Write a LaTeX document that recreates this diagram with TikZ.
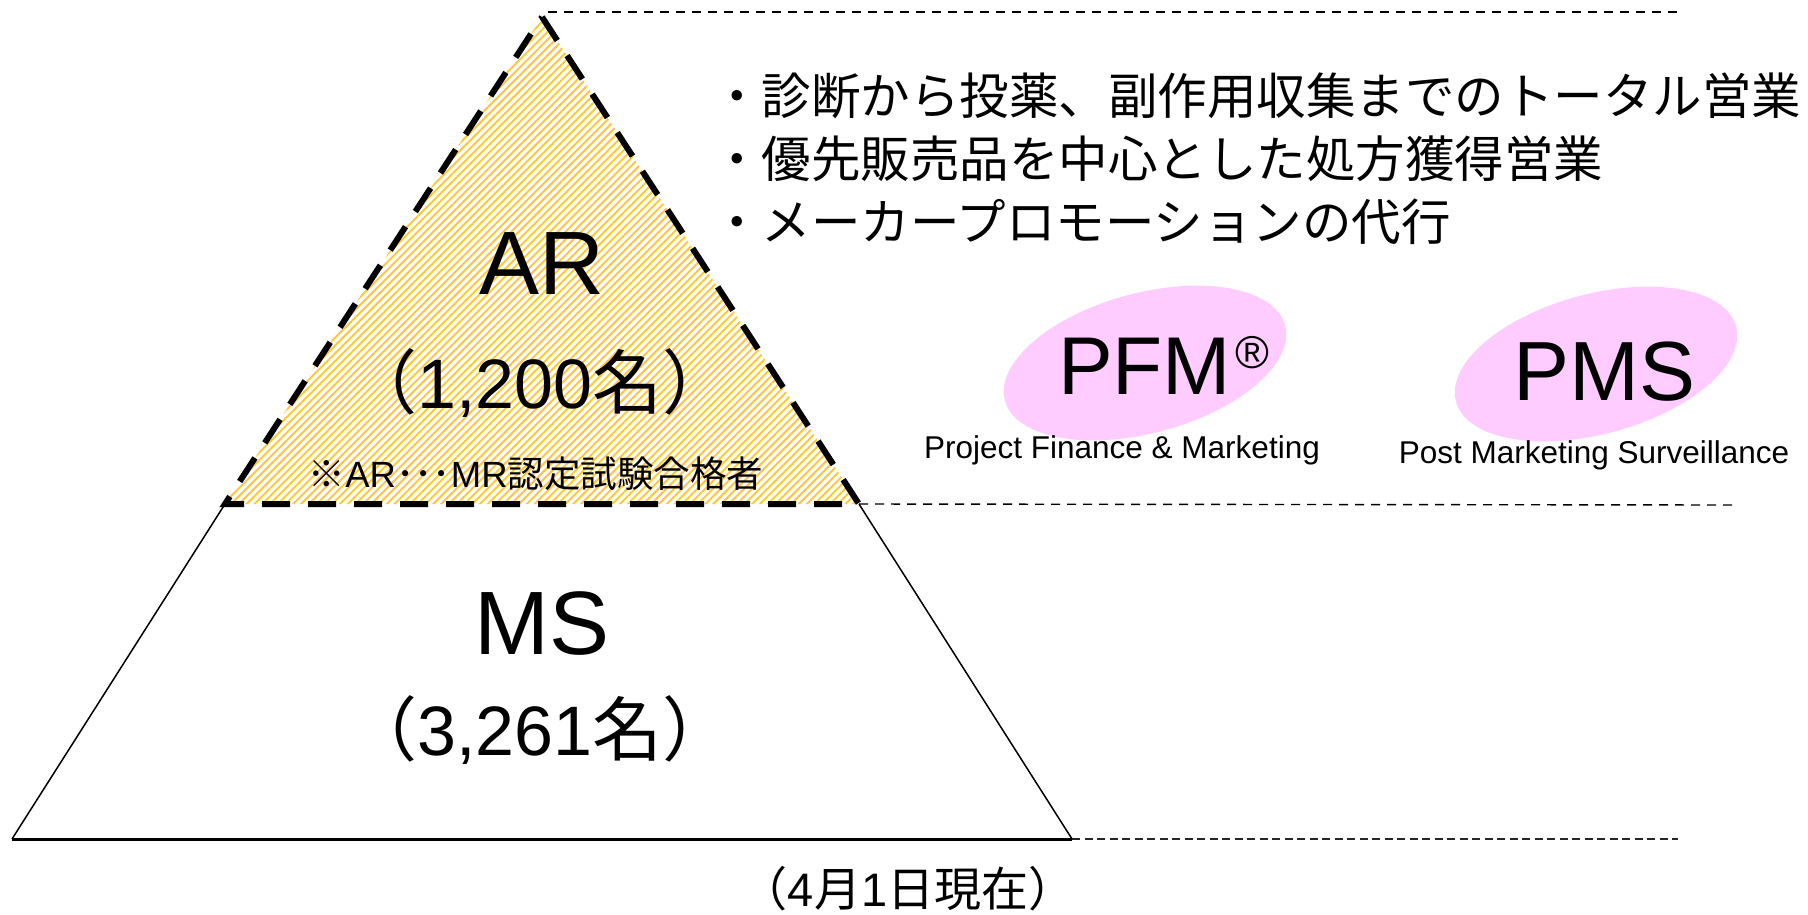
\documentclass[tikz,border=0pt]{standalone}
\usepackage{fontspec}
\setmainfont{Liberation Sans}
\newfontfamily\jp{Noto Sans CJK JP}
\usetikzlibrary{patterns.meta,shapes.geometric}
\definecolor{hatch}{RGB}{255,200,55}
\definecolor{pinkfill}{RGB}{255,204,255}
\newcommand{\fs}[1]{\fontsize{#1}{#1}\selectfont}
\begin{document}
\begin{tikzpicture}[x=1pt,y=-1pt,
  guide/.style={line width=1.4pt, dash pattern=on 9pt off 7pt},
  guidebottom/.style={line width=2.6pt, dash pattern=on 8pt off 4.5pt, draw=black!85},
  arborder/.style={line width=6pt, dash pattern=on 28pt off 18pt, line join=miter},
  mslines/.style={line width=1.5pt},
  blob/.style={ellipse, fill=pinkfill, draw=none, minimum width=290pt, minimum height=140pt, rotate=15},
  txt/.style={inner sep=0pt, outer sep=0pt},
]
\useasboundingbox (0,0) rectangle (1808,914);
% key points
\coordinate (apex) at (542,17);
\coordinate (arL) at (225,504);
\coordinate (arR) at (859,504);
\coordinate (bL) at (12,839);
\coordinate (bR) at (1072,839);
\coordinate (g1s) at (548,12);
\coordinate (g1e) at (1678,12);
\coordinate (g2e) at (1735,505);
\coordinate (g3e) at (1678,839);
% guide lines
\draw[guide] (g1s) -- (g1e);
\draw[guide] (arR) -- (g2e);
\draw[guidebottom] (bR) -- (g3e);
% MS trapezoid
\draw[mslines] (arL) -- (bL);
\draw[mslines] (bR) -- (arR);
\draw[line width=3pt] (bL) -- (bR);
% AR triangle
\fill[white] (apex) -- (arR) -- (arL) -- cycle;
\fill[pattern={Lines[angle=45,distance=5.5pt,line width=2pt]}, pattern color=hatch] (apex) -- (arR) -- (arL) -- cycle;
\draw[arborder] (apex) -- (arR) -- (arL) -- cycle;
% ellipses
\node[blob] (pfmE) at (1145,363) {};
\node[blob] (pmsE) at (1596,364) {};
% texts
\node[txt, anchor=base] (ar) at (542,294) {\fs{90}AR};
\node[txt, anchor=base] (arn) at (540,408) {\fs{70}{\jp （}1,200{\jp 名）}};
\node[txt, anchor=base] (arnote) at (536,487) {\fs{36.5}{\jp ※}AR{\jp ･･･}MR{\jp 認定試験合格者}};
\node[txt, anchor=base] (ms) at (542,654) {\fs{90}MS};
\node[txt, anchor=base] (msn) at (540,755) {\fs{70}{\jp （}3,261{\jp 名）}};
\node[txt, anchor=base] (date) at (908,906) {\fs{47}{\jp （}4{\jp 月}1{\jp 日現在）}};
\node[txt, anchor=base west] (b1) at (712,114) {\fs{49.5}\jp ・診断から投薬、副作用収集までのトータル営業};
\node[txt, anchor=base west] (b2) at (712,177) {\fs{49.5}\jp ・優先販売品を中心とした処方獲得営業};
\node[txt, anchor=base west] (b3) at (712,240) {\fs{49.5}\jp ・メーカープロモーションの代行};
\node[txt, anchor=base west] (pfm) at (1058,394) {\fs{82}PFM\hspace{4pt}\raisebox{26pt}{\fs{46}®}};
\node[txt, anchor=base west] (pms) at (1513,400) {\fs{84}PMS};
\node[txt, anchor=base] (pfmsub) at (1122,458) {\fs{31.5}Project Finance \& Marketing};
\node[txt, anchor=base] (pmssub) at (1594,463) {\fs{31.5}Post Marketing Surveillance};
\end{tikzpicture}
\end{document}
